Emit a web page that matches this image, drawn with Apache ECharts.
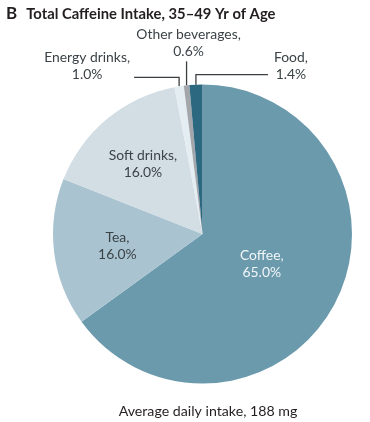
<!DOCTYPE html>
<html>
<head>
<meta charset="utf-8">
<script src="https://cdn.jsdelivr.net/npm/echarts@6/dist/echarts.min.js"></script>
<style>
html,body{margin:0;padding:0;background:#fff;}
#chart{width:370px;height:422px;}
</style>
</head>
<body>
<div id="chart"></div>
<script>
var categories = ['Coffee', 'Tea', 'Soft drinks', 'Energy drinks', 'Other beverages', 'Food'];
var shares = [65.0, 16.0, 16.0, 1.0, 0.6, 1.4];
var sliceColors = ['#6b9aad', '#a9c4d0', '#d3dde4', '#e4edf2', '#a3a7ab', '#2c6880'];
var titleLetter = 'B';
var titleText = 'Total Caffeine Intake, 35\u201349 Yr of Age';
var footnote = 'Average daily intake, 188 mg';

var FONT = 'Lato';
var insideOffsets = {0: [-10, -5], 1: [-8, 2], 2: [-10, -10]};
var outsideCfg = {
  3: {dx: -92, dy: -20, line: function (a) { return [a, [a[0], a[1] - 9], [a[0] - 45, a[1] - 9]]; }},
  4: {dx: 2, dy: -42, line: function (a) { return [a, [a[0], a[1] - 12], [a[0], a[1] - 24]]; }},
  5: {dx: 95, dy: -19, line: function (a) { return [a, [a[0], a[1] - 10], [a[0] + 72, a[1] - 10]]; }}
};

var data = categories.map(function (name, i) {
  var item = {name: name, value: shares[i], itemStyle: {color: sliceColors[i]}};
  if (insideOffsets[i]) {
    item.label = {position: 'inside', offset: insideOffsets[i], color: i === 0 ? '#f2f6f8' : '#3b4347'};
    item.labelLine = {show: false};
  } else {
    item.label = {position: 'outside', color: '#3b4347'};
    item.labelLine = {show: true, length: 10, length2: 10, lineStyle: {color: '#3a3f42', width: 1.3}};
  }
  return item;
});

var chart = echarts.init(document.getElementById('chart'), null, {renderer: 'canvas'});
chart.setOption({
  animation: false,
  title: [
    {
      text: '{b|' + titleLetter + '} {t|' + titleText + '}',
      left: 1, top: 0,
      textStyle: {
        rich: {
          b: {fontFamily: FONT, fontWeight: 'bold', fontSize: 17, color: '#231f20', padding: [0, 4, 0, 0]},
          t: {fontFamily: FONT, fontWeight: 'bold', fontSize: 14.8, color: '#231f20'}
        }
      }
    },
    {
      text: footnote,
      left: 203, textAlign: 'center', top: 399,
      textStyle: {fontFamily: FONT, fontWeight: 'normal', fontSize: 14.2, color: '#231f20'}
    }
  ],
  series: [{
    type: 'pie',
    center: [202.5, 234],
    radius: [0, 149.5],
    startAngle: 90,
    clockwise: true,
    avoidLabelOverlap: false,
    silent: true,
    label: {
      formatter: function (p) { return p.name + ',\n' + p.value.toFixed(1) + '%'; },
      fontFamily: FONT, fontSize: 13.9, lineHeight: 17, align: 'center'
    },
    labelLayout: function (p) {
      var cfg = outsideCfg[p.dataIndex];
      if (!cfg || !p.labelLinePoints) return {};
      var a = p.labelLinePoints[0];
      return {
        x: a[0] + cfg.dx, y: a[1] + cfg.dy,
        align: 'center', verticalAlign: 'middle',
        labelLinePoints: cfg.line(a)
      };
    },
    data: data
  }]
});
</script>
</body>
</html>
